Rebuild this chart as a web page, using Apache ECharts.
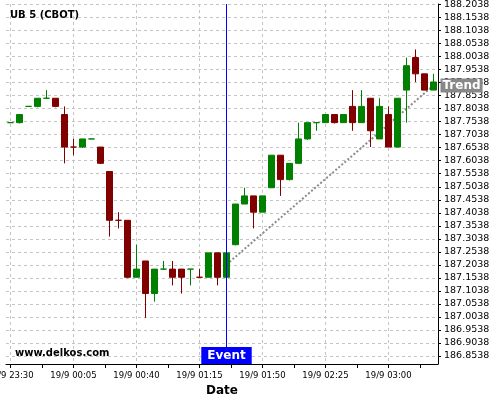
<!DOCTYPE html>
<html><head><meta charset="utf-8">
<script src="https://cdn.jsdelivr.net/npm/echarts@6/dist/echarts.min.js"></script>
<style>html,body{margin:0;padding:0;background:#fff}#c{width:500px;height:400px}</style>
</head><body><div id="c"></div>
<script>
// ---- data ----
const times = [
  '19/9 23:30','19/9 23:35','19/9 23:40','19/9 23:45','19/9 23:50','19/9 23:55',
  '19/9 00:00','19/9 00:05','19/9 00:10','19/9 00:15','19/9 00:20','19/9 00:25',
  '19/9 00:30','19/9 00:35','19/9 00:40','19/9 00:45','19/9 00:50','19/9 00:55',
  '19/9 01:00','19/9 01:05','19/9 01:10','19/9 01:15','19/9 01:20','19/9 01:25',
  '19/9 01:30','19/9 01:35','19/9 01:40','19/9 01:45','19/9 01:50','19/9 01:55',
  '19/9 02:00','19/9 02:05','19/9 02:10','19/9 02:15','19/9 02:20','19/9 02:25',
  '19/9 02:30','19/9 02:35','19/9 02:40','19/9 02:45','19/9 02:50','19/9 02:55',
  '19/9 03:00','19/9 03:05','19/9 03:10','19/9 03:15','19/9 03:20','19/9 03:25'
];
const opens = [
  187.75, 187.75, 187.8125, 187.8125, 187.84375, 187.84375,
  187.78125, 187.65625, 187.65625, 187.6875, 187.65625, 187.5625,
  187.375, 187.375, 187.15625, 187.21875, 187.09375, 187.1875,
  187.1875, 187.1875, 187.1875, 187.15625, 187.15625, 187.25,
  187.15625, 187.28125, 187.4375, 187.46875, 187.40625, 187.5,
  187.625, 187.53125, 187.59375, 187.6875, 187.75, 187.75,
  187.78125, 187.75, 187.8125, 187.75, 187.84375, 187.6875,
  187.78125, 187.65625, 187.875, 188.0, 187.9375, 187.875
];
const closes = [
  187.75, 187.78125, 187.8125, 187.84375, 187.84375, 187.8125,
  187.65625, 187.65625, 187.6875, 187.6875, 187.59375, 187.375,
  187.375, 187.15625, 187.1875, 187.09375, 187.1875, 187.1875,
  187.15625, 187.15625, 187.1875, 187.15625, 187.25, 187.15625,
  187.25, 187.4375, 187.46875, 187.40625, 187.46875, 187.625,
  187.53125, 187.59375, 187.6875, 187.75, 187.75, 187.78125,
  187.75, 187.78125, 187.75, 187.8125, 187.71875, 187.8125,
  187.65625, 187.84375, 187.96875, 187.9375, 187.875, 187.90625
];
const lows = [
  187.75, 187.747, 187.8125, 187.809, 187.8405, 187.809,
  187.59375, 187.625, 187.653, 187.6875, 187.591, 187.3125,
  187.34375, 187.153, 187.15625, 187.0, 187.0625, 187.184,
  187.125, 187.09375, 187.125, 187.15625, 187.15625, 187.125,
  187.15625, 187.279, 187.4375, 187.34375, 187.40625, 187.4987,
  187.46875, 187.528, 187.59375, 187.684, 187.71875, 187.75,
  187.747, 187.75, 187.71875, 187.75, 187.65625, 187.6875,
  187.65625, 187.65625, 187.75, 187.90625, 187.875, 187.875
];
const highs = [
  187.75, 187.78125, 187.8125, 187.84375, 187.875, 187.84375,
  187.8125, 187.6875, 187.6875, 187.6875, 187.65625, 187.5625,
  187.40625, 187.375, 187.28125, 187.21875, 187.1875, 187.21875,
  187.21875, 187.1875, 187.1875, 187.1875, 187.25, 187.25,
  187.25, 187.4375, 187.5, 187.46875, 187.46875, 187.625,
  187.625, 187.59375, 187.75, 187.75, 187.75, 187.78125,
  187.78125, 187.78125, 187.875, 187.875, 187.84375, 187.84375,
  187.8125, 187.84375, 188.0, 188.03125, 187.9375, 187.9375
];
const yTickValues = [
  186.8538, 186.9038, 186.9538, 187.0038, 187.0538, 187.1038, 187.1538,
  187.2038, 187.2538, 187.3038, 187.3538, 187.4038, 187.4538, 187.5038,
  187.5538, 187.6038, 187.6538, 187.7038, 187.7538, 187.8038, 187.8538,
  187.9038, 187.9538, 188.0038, 188.0538, 188.1038, 188.1538, 188.2038
];
const yMin = 186.8231, yMax = 188.2057;
const xLabelEvery = 7;           // one label per 7 candles
const eventTime = '19/9 01:30';
const trendTimes = ['19/9 01:30', '19/9 03:25'];
const trendValues = [187.205, 187.893];
const downDoji = [7, 12];        // flat candles drawn in the falling colour

// ---- build ----
const UP = '#008000', DOWN = '#800000', BLUE = '#0000ff';
const candleData = times.map((t, i) => {
  const item = { value: [opens[i], closes[i], lows[i], highs[i]] };
  if (downDoji.includes(i)) item.itemStyle = { color: DOWN, borderColor: DOWN };
  return item;
});
const trendData = times.map(t => {
  const k = trendTimes.indexOf(t);
  return k >= 0 ? trendValues[k] : null;
});
const n = times.length;
const halfStepTicks = [];
for (let v = 0; v < n - 1; v += xLabelEvery / 2) halfStepTicks.push(v);
const labelSteps = [];
for (let v = 0; v < n; v += xLabelEvery) labelSteps.push(v);

const font = 'DejaVu Sans';
const gridLine = { show: true, lineStyle: { color: '#c4c4c4', type: [3, 3], width: 1 } };

const chart = echarts.init(document.getElementById('c'), null, { renderer: 'canvas' });
chart.setOption({
  animation: false,
  backgroundColor: '#fff',
  textStyle: { fontFamily: font },
  title: [
    { text: 'UB 5 (CBOT)', left: 10, top: 10, padding: 0,
      textStyle: { fontSize: 10, fontWeight: 'bold', color: '#000', fontFamily: font } },
    { text: 'www.delkos.com', left: 15, top: 348, padding: 0,
      textStyle: { fontSize: 10, fontWeight: 'bold', color: '#000', fontFamily: font } }
  ],
  grid: { left: 6, right: 62, top: 4, bottom: 36, containLabel: false, outerBoundsMode: 'none' },
  xAxis: [
    {
      type: 'category', data: times, boundaryGap: true,
      axisLine: { show: false }, axisTick: { show: false }, splitLine: { show: false },
      axisLabel: { interval: xLabelEvery - 1, color: '#000', fontSize: 8.5, margin: 7, fontFamily: font },
      name: 'Date', nameLocation: 'middle', nameGap: 19,
      nameTextStyle: { fontSize: 12, fontWeight: 'bold', color: '#000', fontFamily: font }
    },
    {
      type: 'value', min: -0.5, max: n - 0.5, position: 'bottom',
      axisLine: { show: true, onZero: false, lineStyle: { color: '#000', width: 1 } },
      axisTick: { show: true, customValues: halfStepTicks, length: 4, lineStyle: { color: '#000' } },
      axisLabel: { show: false }, splitLine: { show: false }
    },
    {
      type: 'value', min: -0.5, max: n - 0.5, position: 'bottom',
      axisLine: { show: false, onZero: false }, axisTick: { show: false, customValues: labelSteps },
      axisLabel: { show: false }, splitLine: gridLine
    }
  ],
  yAxis: {
    type: 'value', position: 'right', min: yMin, max: yMax, scale: true,
    axisLine: { show: true, onZero: false, lineStyle: { color: '#000', width: 1 } },
    axisTick: { show: true, customValues: yTickValues, length: 3, inside: false, lineStyle: { color: '#000' } },
    axisLabel: { customValues: yTickValues, formatter: v => v.toFixed(4), color: '#000',
                 fontSize: 9.5, margin: 6, fontFamily: font },
    splitLine: gridLine
  },
  series: [
    {
      type: 'line', xAxisIndex: 0, data: trendData, connectNulls: true, symbol: 'none', z: 1,
      lineStyle: { color: '#8c8c8c', width: 2, type: 'dotted' },
      endLabel: { show: true, formatter: 'Trend', color: '#fff', backgroundColor: '#888',
                  fontWeight: 'bold', fontSize: 12, fontFamily: font, padding: [1, 2, 1, 2], distance: 7 }
    },
    {
      type: 'candlestick', xAxisIndex: 0, data: candleData, barWidth: 6, z: 2,
      itemStyle: { color: UP, color0: DOWN, borderColor: UP, borderColor0: DOWN, borderWidth: 1 }
    },
    {
      type: 'line', name: 'event', xAxisIndex: 0, z: 5, symbol: 'none',
      data: [[eventTime, yMin], [eventTime, yMax]],
      lineStyle: { color: BLUE, width: 1, type: 'solid' },
      markLine: {
        silent: true, symbol: ['none', 'none'], animation: false, z: 6,
        lineStyle: { color: 'rgba(0,0,255,0)', width: 1 },
        label: { show: true, position: 'start', formatter: 'Event', color: '#fff', backgroundColor: BLUE,
                 fontWeight: 'bold', fontSize: 12, fontFamily: font, padding: [2, 6, 2, 6], lineHeight: 13, distance: -17 },
        data: [{ xAxis: eventTime }]
      }
    }
  ]
});
</script>
</body></html>
